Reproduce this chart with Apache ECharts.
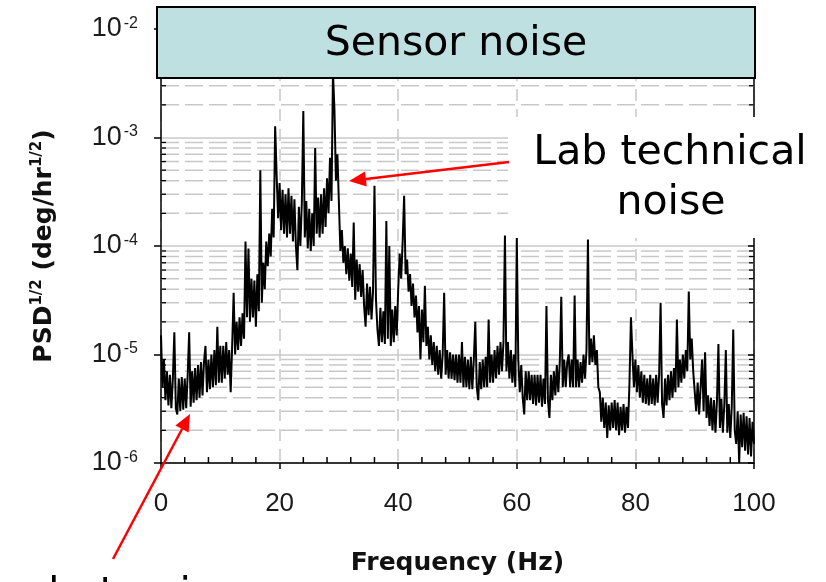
<!DOCTYPE html>
<html>
<head>
<meta charset="utf-8">
<script src="https://cdn.jsdelivr.net/npm/echarts@6/dist/echarts.min.js"></script>
<style>
  html, body { margin: 0; background: #fff; }
  #chart { width: 826px; height: 582px; }
</style>
</head>
<body>
<div id="chart"></div>
<script>
// PSD^1/2 read off the plot, in units of 1e-6 deg/hr^1/2, sampled every 0.25 Hz
// (alternating upper / lower edge of the noise band, spikes where the lines are)
const freqStep = 0.25;
const psd00 = [15, 5, 9, 3.8, 7, 3.4, 6.5, 3.2, 6, 16,
  3.2, 2.8, 6, 3, 6.2, 3.1, 6, 3.2, 6.5, 16,
  3.3, 7, 3.6, 7.5, 3.8, 8, 4, 8.5, 4.2, 8.5,
  12, 4.5, 9, 4.8, 10, 5, 11, 5.2, 18, 5.5];
const psd10 = [12, 5.5, 12, 6, 13, 6.5, 11, 4.5, 12, 37,
  10, 20, 11, 22, 12, 24, 14, 110, 22, 95,
  20, 50, 22, 48, 18, 55, 25, 500, 30, 70,
  40, 110, 65, 130, 80, 220, 120, 1270, 450, 180];
const psd20 = [380, 140, 330, 130, 300, 120, 340, 130, 290, 110,
  270, 100, 60, 230, 100, 250, 1750, 120, 260, 95,
  220, 90, 200, 100, 800, 130, 280, 120, 300, 130,
  340, 150, 420, 200, 650, 260, 4000, 1800, 400, 700];
const psd30 = [250, 90, 140, 70, 100, 55, 95, 48, 85, 42,
  165, 32, 75, 38, 68, 34, 60, 28, 18, 45,
  23, 42, 21, 38, 360, 32, 17, 12, 27, 13,
  25, 12.5, 170, 14, 100, 12, 26, 13, 28, 15];
const psd40 = [40, 85, 50, 110, 290, 55, 75, 38, 55, 28,
  45, 22, 35, 16, 28, 9, 26, 13, 43, 12,
  18, 9, 15, 8, 13, 7, 12, 6.5, 11, 6,
  10, 37, 6.5, 11, 6, 10.5, 6, 10, 5.8, 10];
const psd50 = [5.5, 10, 5.5, 13, 5, 9.5, 5, 9, 4.8, 9.5,
  4.8, 9, 20, 5, 3.8, 8.5, 4.8, 9, 5, 9.5,
  5, 21, 5.5, 10, 5.5, 11, 6, 12, 6.5, 13,
  7, 13, 125, 7, 13, 6, 11, 5.5, 10, 5];
const psd60 = [120, 9, 4.5, 8, 4, 2.8, 7, 3.8, 7, 3.8,
  6.5, 3.5, 6.5, 3.4, 6.5, 3.6, 6.5, 3.3, 6, 3.5,
  28, 3.8, 2.6, 6.5, 3.8, 7, 4.2, 8, 4.5, 8.5,
  34, 5, 9, 5, 8.5, 10, 5, 9, 5, 35];
const psd70 = [5, 9, 5, 8.5, 5.5, 10, 6, 11, 115, 8,
  14, 8.5, 15, 8, 11, 5, 4.5, 2.4, 4, 2.1,
  3.6, 1.7, 3.4, 2, 3.6, 2.1, 3.8, 2, 3.6, 1.8,
  3.3, 2, 3.5, 1.9, 3.3, 2.1, 5.5, 22, 10, 5];
const psd80 = [9, 4.5, 8, 4, 7, 3.6, 6.5, 3.5, 6, 3.4,
  6.5, 3.5, 6, 3.4, 6.5, 3.6, 6.5, 30, 3.5, 2.6,
  6, 3.4, 6.5, 3.8, 7, 4, 7.5, 4.5, 21, 5,
  9, 5.5, 10, 6, 11, 7, 38, 9, 14, 7];
const psd90 = [7, 3, 5.5, 2.8, 5, 9, 3, 10.5, 2.6, 4.2,
  2.2, 4, 2, 3.8, 1.9, 3.7, 12.5, 2.1, 3.9, 1.9,
  3.5, 11, 1.9, 3.5, 1.7, 3.3, 17, 2, 1.5, 3,
  1, 2.8, 1.4, 2.9, 1.3, 2.7, 1.2, 2.6, 1.15, 2.4,
  1.5];

const xTicks = [0, 20, 40, 60, 80, 100];
const yDecades = [-6, -5, -4, -3, -2];

const segments = [psd00, psd10, psd20, psd30, psd40, psd50, psd60, psd70, psd80, psd90];
const trace = [];
segments.forEach((seg, s) => {
  seg.forEach((v, i) => trace.push([s * 10 + i * freqStep, v * 1e-6]));
});

// minor log grid values 2..9 x 10^n
const yMinor = [];
for (let n = yDecades[0]; n < yDecades[yDecades.length - 1]; n++) {
  for (let k = 2; k <= 9; k++) yMinor.push([0, k * Math.pow(10, n)]);
}
const xMinor = [];
for (let f = 4; f < 100; f += 4) if (f % 20 !== 0) xMinor.push([f, 1e-6]);

const grey = '#c8c8c8';
const labelFont = 'Liberation Sans';
const textFont = 'DejaVu Sans';

const myChart = echarts.init(document.getElementById('chart'));

function arrow(x1, y1, x2, y2) {
  const a = Math.atan2(y2 - y1, x2 - x1);
  const L = 17, W = 7.5;
  const bx = x2 - L * Math.cos(a), by = y2 - L * Math.sin(a);
  return [
    { type: 'line', z: 102, shape: { x1: x1, y1: y1, x2: bx, y2: by }, style: { stroke: '#ff0000', lineWidth: 2.5 } },
    { type: 'polygon', z: 102, shape: { points: [[x2, y2], [bx + W * Math.sin(a), by - W * Math.cos(a)], [bx - W * Math.sin(a), by + W * Math.cos(a)]] }, style: { fill: '#ff0000' } }
  ];
}

const option = {
  animation: false,
  grid: { left: 161, right: 72, top: 29, bottom: 117 },
  xAxis: {
    type: 'value',
    min: xTicks[0],
    max: xTicks[xTicks.length - 1],
    interval: 20,
    name: 'Frequency (Hz)',
    nameLocation: 'middle',
    nameGap: 86,
    nameTextStyle: { fontFamily: textFont, fontWeight: 'bold', fontSize: 25, lineHeight: 28, color: '#111' },
    axisLine: { lineStyle: { color: '#000', width: 1.5 } },
    axisTick: { length: 6, lineStyle: { color: '#000', width: 1.5 } },
    axisLabel: { fontFamily: labelFont, fontSize: 26, lineHeight: 26, color: '#1a1a1a', margin: 28 },
    splitLine: { show: true, lineStyle: { color: grey, width: 1.5, type: [12, 8] } }
  },
  yAxis: [
    {
      type: 'log',
      logBase: 10,
      min: Math.pow(10, yDecades[0]),
      max: Math.pow(10, yDecades[yDecades.length - 1]),
      splitNumber: 4,
      name: 'PSD{sup|1/2} (deg/hr{sup|1/2})',
      nameLocation: 'middle',
      nameGap: 103,
      nameTextStyle: {
        fontFamily: textFont, fontWeight: 'bold', fontSize: 25, lineHeight: 28, color: '#111',
        rich: { sup: { fontFamily: textFont, fontWeight: 'bold', fontSize: 15, lineHeight: 15, verticalAlign: 'top', color: '#111' } }
      },
      axisLine: { lineStyle: { color: '#000', width: 1.5 } },
      axisTick: { length: 7, lineStyle: { color: '#000', width: 1.5 } },
      axisLabel: {
        margin: 23,
        formatter: v => '{b|10}{sup|' + Math.round(Math.log10(v)) + '}',
        rich: {
          b: { fontFamily: labelFont, fontSize: 27, lineHeight: 27, color: '#1a1a1a' },
          sup: { fontFamily: labelFont, fontSize: 16, lineHeight: 16, verticalAlign: 'top', color: '#1a1a1a', padding: [0, 0, 0, 2] }
        }
      },
      splitLine: { show: true, lineStyle: { color: grey, width: 1.5 } }
    },
    {
      type: 'log',
      logBase: 10,
      position: 'right',
      min: Math.pow(10, yDecades[0]),
      max: Math.pow(10, yDecades[yDecades.length - 1]),
      splitNumber: 4,
      axisLine: { lineStyle: { color: '#000', width: 1.5 } },
      axisTick: { inside: true, length: 6, lineStyle: { color: '#000', width: 1.5 } },
      axisLabel: { show: false },
      splitLine: { show: false }
    }
  ],
  series: [
    {
      // minor log grid lines + minor ticks on both y sides
      type: 'custom',
      silent: true,
      z: 1,
      data: yMinor,
      renderItem: (params, api) => {
        const v = api.value(1);
        const p0 = api.coord([xTicks[0], v]);
        const p1 = api.coord([xTicks[xTicks.length - 1], v]);
        return {
          type: 'group',
          children: [
            { type: 'line', shape: { x1: p0[0], y1: p0[1], x2: p1[0], y2: p1[1] }, style: { stroke: grey, lineWidth: 1.5, lineDash: [18, 6] } },
            { type: 'line', shape: { x1: p0[0], y1: p0[1], x2: p0[0] + 5, y2: p0[1] }, style: { stroke: '#000', lineWidth: 1.3 } },
            { type: 'line', shape: { x1: p1[0] - 5, y1: p1[1], x2: p1[0], y2: p1[1] }, style: { stroke: '#000', lineWidth: 1.3 } }
          ]
        };
      }
    },
    {
      // minor ticks on the frequency axis, pointing inward
      type: 'custom',
      silent: true,
      z: 1,
      data: xMinor,
      renderItem: (params, api) => {
        const p = api.coord([api.value(0), api.value(1)]);
        return { type: 'line', shape: { x1: p[0], y1: p[1], x2: p[0], y2: p[1] - 6 }, style: { stroke: '#000', lineWidth: 1.5 } };
      }
    },
    {
      name: 'PSD',
      type: 'line',
      data: trace,
      showSymbol: false,
      z: 3,
      lineStyle: { color: '#000', width: 2 }
    }
  ],
  graphic: [
    { type: 'rect', z: 100, shape: { x: 157, y: 7, width: 598, height: 71 }, style: { fill: '#bee0e1', stroke: '#000', lineWidth: 2 } },
    { type: 'text', z: 101, x: 456, y: 44, style: { text: 'Sensor noise', font: '41px "DejaVu Sans"', fill: '#000', textAlign: 'center', textVerticalAlign: 'middle' } },
    { type: 'rect', z: 100, shape: { x: 508, y: 117, width: 318, height: 121 }, style: { fill: '#fff' } },
    { type: 'text', z: 101, x: 670, y: 153, style: { text: 'Lab technical', font: '41px "DejaVu Sans"', fill: '#000', textAlign: 'center', textVerticalAlign: 'middle' } },
    { type: 'text', z: 101, x: 671, y: 203, style: { text: 'noise', font: '41px "DejaVu Sans"', fill: '#000', textAlign: 'center', textVerticalAlign: 'middle' } },
    { type: 'text', z: 101, x: 27, y: 595, style: { text: 'shot noise', font: '41px "DejaVu Sans"', fill: '#000', textAlign: 'left', textVerticalAlign: 'middle' } },
    ...arrow(509, 162, 349, 181),
    ...arrow(113, 559, 190, 414)
  ]
};

myChart.setOption(option);
</script>
</body>
</html>
